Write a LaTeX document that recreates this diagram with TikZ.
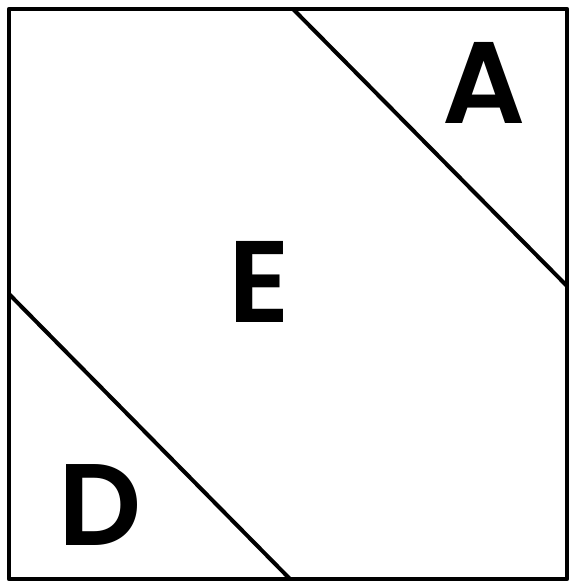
\documentclass[tikz,border=0pt]{standalone}
\usepackage{fontspec}
\newfontfamily\letterfont{Poppins SemiBold}
\tikzset{
  region/.style={font=\letterfont\fontsize{58}{60}\selectfont, anchor=base, inner sep=0pt},
  border/.style={line width=2.4pt, line join=round},
  cut/.style={line width=2pt}
}
\begin{document}
\begin{tikzpicture}[x=0.5pt, y=-0.5pt]
    \useasboundingbox (0,0) rectangle (570,583);
    % Outer square
    \draw[border] (9,9) rectangle (567,579);

    % Dividing lines
    \draw[cut] (293,9) -- (567,286);
    \draw[cut] (9,294) -- (290,579);

    % Region labels
    \node[region] (A) at (484,124) {A};
    \node[region] (E) at (259,322) {E};
    \node[region] (D) at (100,545) {D};
\end{tikzpicture}
\end{document}
